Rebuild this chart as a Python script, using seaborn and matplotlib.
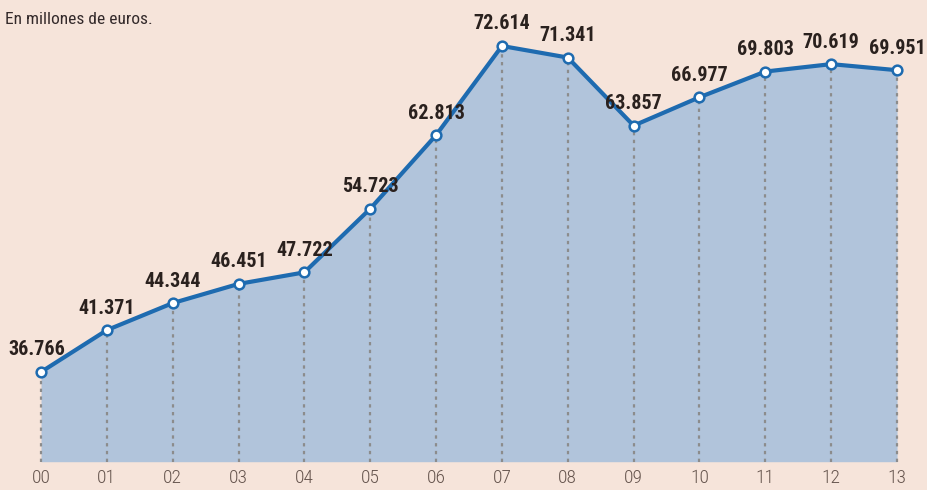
import matplotlib
matplotlib.use("Agg")
import matplotlib.pyplot as plt
import seaborn as sns
import pandas as pd

years = ["00", "01", "02", "03", "04", "05", "06", "07", "08", "09", "10", "11", "12", "13"]
values = [36.766, 41.371, 44.344, 46.451, 47.722, 54.723, 62.813, 72.614, 71.341,
          63.857, 66.977, 69.803, 70.619, 69.951]
labels = ["36.766", "41.371", "44.344", "46.451", "47.722", "54.723", "62.813", "72.614",
          "71.341", "63.857", "66.977", "69.803", "70.619", "69.951"]

sns.set_theme(style="white")
plt.rcParams['font.family'] = ['Roboto Condensed', 'Liberation Sans Narrow', 'Roboto', 'DejaVu Sans']

bg = "#F6E4DA"
df = pd.DataFrame({"x": range(len(years)), "v": values})

fig = plt.figure(figsize=(9.27, 4.90), dpi=100, facecolor=bg)
ax = fig.add_axes([0, 0, 1, 1])
ax.set_facecolor(bg)

base = 26.9
ax.fill_between(df["x"], df["v"], base, color="#B1C4DB", lw=0, zorder=1)
for i, v in zip(df["x"], df["v"]):
    ax.plot([i, i], [base, v], ls=(0, (1.5, 2)), color="#8C8C8C", lw=1.6, zorder=2)

sns.lineplot(data=df, x="x", y="v", ax=ax, color="#1E6BB0", lw=3, zorder=3,
             marker="o", markersize=7, markerfacecolor="white",
             markeredgecolor="#1E6BB0", markeredgewidth=1.8)

for i, (v, t) in enumerate(zip(values, labels)):
    dx = -0.06 if i == 0 else 0
    ax.annotate(t, (i + dx, v), xytext=(0, 9), textcoords="offset points",
                ha="center", va="bottom", fontsize=14.5, fontweight="bold",
                color="#2A211E", zorder=4)

for i, y in enumerate(years):
    ax.text(i, 25.1, y, ha="center", va="center", fontsize=14, fontweight="light",
            color="#66554E")

ax.text(5 / 927, 1 - 20 / 490, "En millones de euros.", transform=ax.transAxes,
        ha="left", va="center", fontsize=12.5, color="#33292A")

ax.set_xlim(-0.623, 13.455)
ax.set_ylim(23.79, 77.67)
ax.set_xlabel("")
ax.set_ylabel("")
ax.set_xticks([])
ax.set_yticks([])
for s in ax.spines.values():
    s.set_visible(False)

fig.savefig("out.png", dpi=100, facecolor=bg)
